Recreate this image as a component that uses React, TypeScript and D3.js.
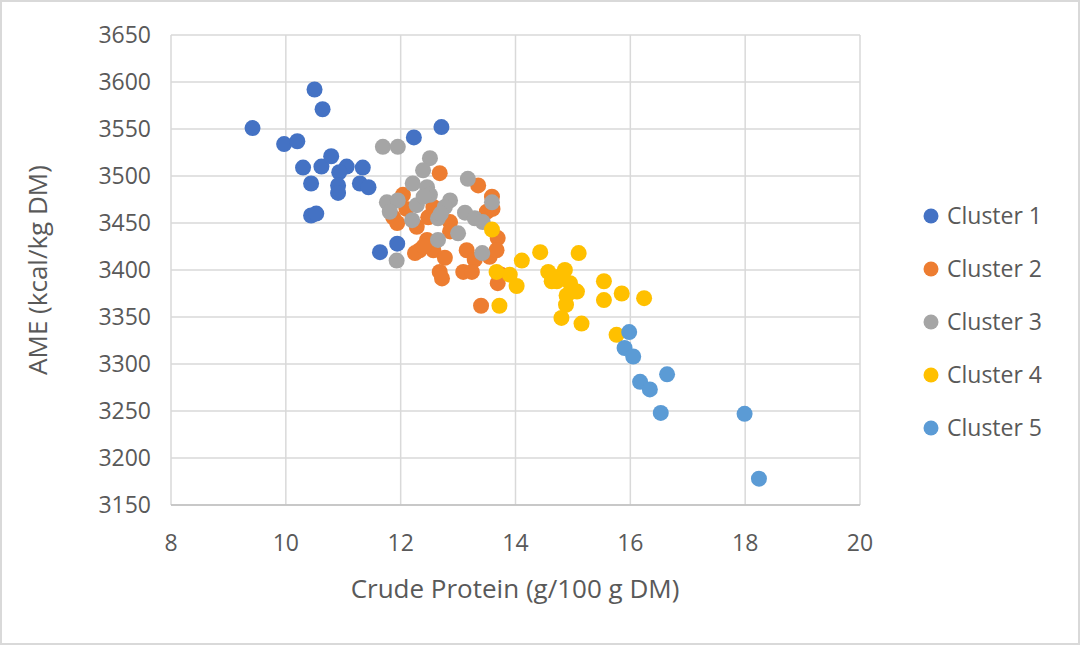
import React from "react";
import * as d3 from "d3";

const seriesNames = ["Cluster 1", "Cluster 2", "Cluster 3", "Cluster 4", "Cluster 5"];
const seriesColors = ["#4472C4", "#ED7D31", "#A5A5A5", "#FFC000", "#5B9BD5"];

const cluster1: [number, number][] = [
  [10.5, 3592], [10.64, 3571], [9.42, 3551], [9.97, 3534], [10.2, 3537], [12.71, 3552],
  [12.23, 3541], [10.3, 3509], [10.62, 3510], [10.79, 3521], [11.06, 3510], [11.34, 3509],
  [10.93, 3504], [10.91, 3490], [10.91, 3482], [10.44, 3492], [11.29, 3492], [11.44, 3488],
  [10.44, 3458], [10.53, 3460], [11.94, 3428], [11.64, 3419],
];
const cluster2: [number, number][] = [
  [12.68, 3503], [13.35, 3490], [12.04, 3480], [13.59, 3478], [12.57, 3467], [11.87, 3456],
  [12.86, 3451], [12.48, 3456], [13.5, 3462], [11.94, 3450], [12.28, 3446], [12.86, 3441],
  [13.69, 3434], [12.46, 3432], [12.33, 3421], [12.25, 3418], [12.57, 3421], [12.77, 3413],
  [13.15, 3421], [13.29, 3411], [13.55, 3414], [13.67, 3421], [12.68, 3398], [12.72, 3391],
  [13.09, 3398], [13.24, 3398], [13.69, 3386], [13.4, 3362], [12.1, 3465], [13.75, 3395],
  [12.4, 3425], [13.6, 3465],
];
const cluster3: [number, number][] = [
  [11.69, 3531], [11.95, 3531], [12.51, 3519], [12.39, 3506], [13.17, 3497], [12.21, 3492],
  [12.46, 3488], [12.51, 3480], [13.59, 3472], [11.76, 3472], [11.95, 3474], [11.81, 3462],
  [12.28, 3469], [12.86, 3474], [12.77, 3467], [12.2, 3453], [12.65, 3455], [13.12, 3461],
  [13.29, 3455], [13.43, 3451], [13.0, 3439], [12.65, 3432], [13.42, 3418], [11.93, 3410],
  [12.4, 3478], [12.7, 3460],
];
const cluster4: [number, number][] = [
  [13.59, 3443], [14.11, 3410], [14.43, 3419], [15.1, 3418], [13.67, 3398], [13.9, 3395],
  [14.02, 3383], [13.72, 3362], [14.57, 3398], [14.86, 3400], [14.72, 3388], [14.95, 3386],
  [15.07, 3377], [14.89, 3373], [14.88, 3363], [14.8, 3349], [15.15, 3343], [15.54, 3388],
  [15.54, 3368], [15.85, 3375], [16.24, 3370], [15.76, 3331], [14.77, 3393], [14.63, 3388],
];
const cluster5: [number, number][] = [
  [15.98, 3334], [15.9, 3317], [16.05, 3308], [16.17, 3281], [16.34, 3273], [16.64, 3289],
  [16.53, 3248], [17.99, 3247], [18.24, 3178],
];
const allSeries = [cluster1, cluster2, cluster3, cluster4, cluster5];

const xTicks = [8, 10, 12, 14, 16, 18, 20];
const yTicks = [3150, 3200, 3250, 3300, 3350, 3400, 3450, 3500, 3550, 3600, 3650];

const W = 1080;
const H = 645;
const left = 171;
const right = 860;
const top = 35;
const bottom = 505;
const font = "'Open Sans', 'Noto Sans', sans-serif";
const textColor = "#595959";

export default function App() {
  const x = d3.scaleLinear().domain([8, 20]).range([left, right]);
  const y = d3.scaleLinear().domain([3150, 3650]).range([bottom, top]);
  return (
    <svg width={W} height={H} style={{ position: "absolute", left: 0, top: 0 }} fontFamily={font}>
      <rect x={0} y={0} width={W} height={H} fill="#fff" />
      <rect x={1} y={1} width={W - 2} height={H - 2} fill="none" stroke="#d9d9d9" strokeWidth={2} />
      {xTicks.map((t) => (
        <line key={"gx" + t} x1={x(t)} x2={x(t)} y1={top} y2={bottom} stroke="#d9d9d9" strokeWidth={1.5} />
      ))}
      {yTicks.map((t) => (
        <line key={"gy" + t} x1={left} x2={right} y1={y(t)} y2={y(t)} stroke="#d9d9d9" strokeWidth={1.5} />
      ))}
      <line x1={left} x2={right} y1={bottom} y2={bottom} stroke="#bfbfbf" strokeWidth={1.5} />
      {yTicks.map((t) => (
        <text key={"ty" + t} x={151} y={y(t)} dy="0.35em" textAnchor="end" fontSize={23} fill={textColor}>
          {t}
        </text>
      ))}
      {xTicks.map((t) => (
        <text key={"tx" + t} x={x(t)} y={543} dy="0.35em" textAnchor="middle" fontSize={23} fill={textColor}>
          {t}
        </text>
      ))}
      <text x={515} y={589} dy="0.35em" textAnchor="middle" fontSize={26} fill={textColor}>
        Crude Protein (g/100 g DM)
      </text>
      <text
        transform={`translate(38,${(top + bottom) / 2}) rotate(-90)`}
        dy="0.35em"
        textAnchor="middle"
        fontSize={26}
        fill={textColor}
      >
        AME (kcal/kg DM)
      </text>
      {allSeries.map((s, i) => (
        <g key={"s" + i} fill={seriesColors[i]}>
          {s.map((d, j) => (
            <circle key={j} cx={x(d[0])} cy={y(d[1])} r={8} />
          ))}
        </g>
      ))}
      {seriesNames.map((n, i) => (
        <g key={"l" + i} transform={`translate(931,${216 + i * 53})`}>
          <circle cx={0} cy={0} r={7.5} fill={seriesColors[i]} />
          <text x={16} y={0} dy="0.35em" fontSize={23} fill={textColor}>
            {n}
          </text>
        </g>
      ))}
    </svg>
  );
}
